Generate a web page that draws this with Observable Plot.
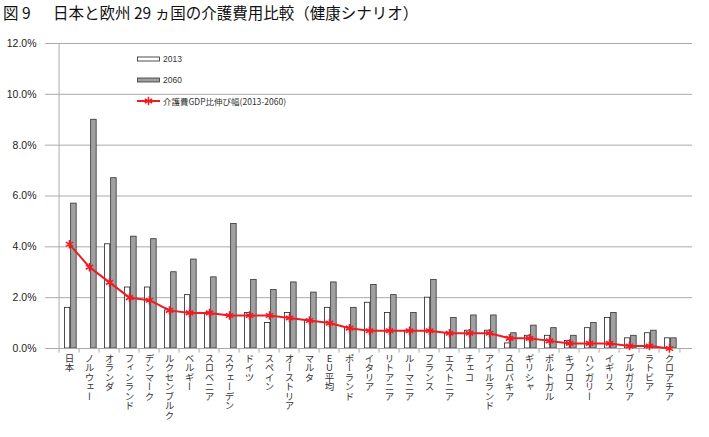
<!DOCTYPE html>
<html>
<head>
<meta charset="utf-8">
<script src="https://cdn.jsdelivr.net/npm/d3@7"></script>
<script src="https://cdn.jsdelivr.net/npm/@observablehq/plot@0.6"></script>
<style>
  body { margin: 0; background: #fff; font-family: "Noto Sans CJK JP", sans-serif; }
  #wrap { position: relative; width: 709px; height: 437px; overflow: hidden; }
  #title { height: 28px; font-size: 15.5px; line-height: 24px; padding-left: 3px; color: #111; white-space: pre; }
  #legend { position: absolute; left: 137px; top: 48px; font-size: 8.5px; color: #333; }
  #legend .row { display: flex; align-items: center; height: 21.4px; }
  #legend .row span { margin-left: 2px; }
  #legend .num { font-family: "Liberation Sans", Arial, sans-serif; }
</style>
</head>
<body>
<div id="wrap">
  <div id="title">図 9　  日本と欧州 29 ヵ国の介護費用比較（健康シナリオ）</div>
  <div id="chart"></div>
  <div id="legend"></div>
</div>
<script>
// Countries sorted by growth of long-term care spending (% of GDP), 2013 → 2060
const countries = ["日本","ノルウェー","オランダ","フィンランド","デンマーク","ルクセンブルク","ベルギー","スロベニア","スウェーデン","ドイツ","スペイン","オーストリア","マルタ","EU平均","ポーランド","イタリア","リトアニア","ルーマニア","フランス","エストニア","チェコ","アイルランド","スロバキア","ギリシャ","ポルトガル","キプロス","ハンガリー","イギリス","ブルガリア","ラトビア","クロアチア"];
const share2013 = [1.6, null, 4.1, 2.4, 2.4, 1.5, 2.1, 1.4, null, 1.4, 1.0, 1.4, 1.1, 1.6, 0.8, 1.8, 1.4, 0.7, 2.0, 0.6, 0.7, 0.7, 0.2, 0.5, 0.5, 0.3, 0.8, 1.2, 0.4, 0.6, 0.4];
const share2060 = [5.7, 9.0, 6.7, 4.4, 4.3, 3.0, 3.5, 2.8, 4.9, 2.7, 2.3, 2.6, 2.2, 2.6, 1.6, 2.5, 2.1, 1.4, 2.7, 1.2, 1.3, 1.3, 0.6, 0.9, 0.8, 0.5, 1.0, 1.4, 0.5, 0.7, 0.4];
const growth = [4.1, 3.2, 2.6, 2.0, 1.9, 1.5, 1.4, 1.4, 1.3, 1.3, 1.3, 1.2, 1.1, 1.0, 0.8, 0.7, 0.7, 0.7, 0.7, 0.6, 0.6, 0.6, 0.4, 0.4, 0.3, 0.2, 0.2, 0.2, 0.1, 0.1, 0.0];
const yTicks = [0, 2, 4, 6, 8, 10, 12];
const seriesLabels = ["2013", "2060", "介護費GDP比伸び幅(2013-2060)"];

const rows = countries.map((name, i) => ({name, a: share2013[i], b: share2060[i], g: growth[i]}));

const width = 709, height = 409;
const marginLeft = 45, marginRight = 17, marginTop = 15, marginBottom = 89;
const band = (width - marginLeft - marginRight) / countries.length;
const half = band / 2;
const grid = "#aaaaaa";
const red = "#ee1d23";

const chart = Plot.plot({
  width, height, marginLeft, marginRight, marginTop, marginBottom,
  style: {fontFamily: "Liberation Sans, Arial, sans-serif", fontSize: "10.5px", color: "#222", background: "#fff"},
  x: {domain: countries, padding: 0, axis: null},
  y: {domain: [0, 12], ticks: yTicks, tickFormat: d => d.toFixed(1) + "%", tickSize: 0, tickPadding: 9, label: null},
  marks: [
    Plot.ruleY(yTicks.slice(1), {stroke: grid}),
    Plot.barY(rows.filter(d => d.a != null), {x: "name", y: "a", fill: "#fff", stroke: "#222", strokeWidth: 0.8, insetLeft: half - 5, insetRight: half - 1.2}),
    Plot.barY(rows, {x: "name", y: "b", fill: "#a0a0a0", stroke: "#333", strokeWidth: 0.8, insetLeft: half + 1.2, insetRight: half - 7.6}),
    Plot.ruleY([0], {stroke: grid}),
    Plot.ruleX(countries.slice(0, 1), {x: d => d, dx: -half, y1: 0, y2: 12, stroke: grid}),
    Plot.ruleX(countries, {x: d => d, dx: -half, y1: 0, y2: -0.18, stroke: grid}),
    Plot.ruleX(countries.slice(-1), {x: d => d, dx: half, y1: 0, y2: -0.18, stroke: grid}),
    Plot.line(rows, {x: "name", y: "g", stroke: red, strokeWidth: 2}),
    Plot.dot(rows, {x: "name", y: "g", symbol: "asterisk", r: 4, stroke: red, strokeWidth: 1.6}),
    Plot.text(rows, {x: "name", text: "name", frameAnchor: "bottom", dy: 5, textAnchor: "start", fontSize: 9.5, fill: "#333", fontFamily: "Noto Sans CJK JP"})
  ]
});

// country names are set vertically (tategaki)
d3.select(chart).selectAll('g[aria-label="text"] text')
  .attr("dy", null)
  .style("writing-mode", "vertical-rl")
  .style("text-orientation", "upright");

document.getElementById("chart").appendChild(chart);

// legend
const legend = d3.select("#legend");
const swatches = [
  s => s.append("rect").attr("x", 0.5).attr("y", 3).attr("width", 22).attr("height", 4).attr("fill", "#fff").attr("stroke", "#222").attr("stroke-width", 0.8),
  s => s.append("rect").attr("x", 0.5).attr("y", 3).attr("width", 22).attr("height", 4).attr("fill", "#a0a0a0").attr("stroke", "#333").attr("stroke-width", 0.8),
  s => {
    s.append("line").attr("x1", 0).attr("x2", 23).attr("y1", 5).attr("y2", 5).attr("stroke", red).attr("stroke-width", 2);
    s.append("path").attr("transform", "translate(11.5,5)").attr("d", d3.symbol(d3.symbolAsterisk, 50)()).attr("stroke", red).attr("stroke-width", 1.5).attr("fill", "none");
  }
];
seriesLabels.forEach((label, i) => {
  const row = legend.append("div").attr("class", "row");
  swatches[i](row.append("svg").attr("width", 24).attr("height", 10));
  row.append("span").attr("class", i < 2 ? "num" : null).text(label);
});
</script>
</body>
</html>
